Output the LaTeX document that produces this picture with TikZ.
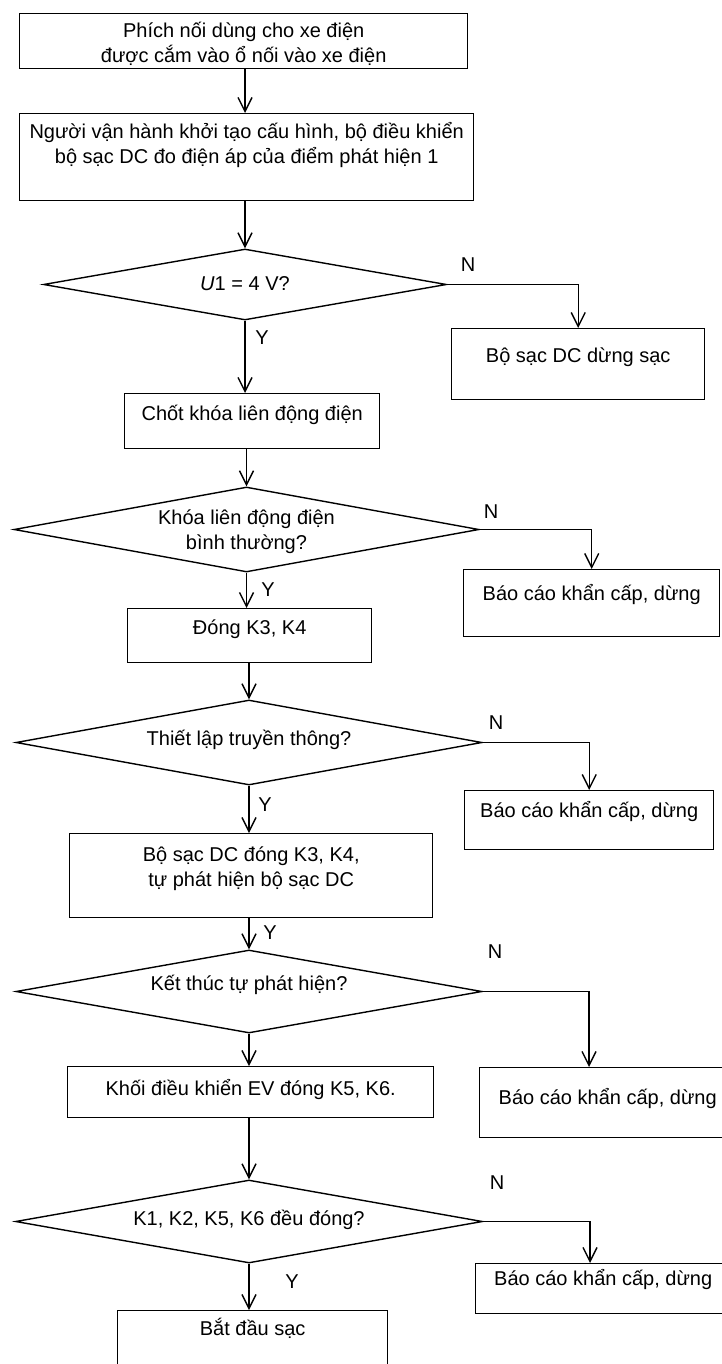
\documentclass[tikz,border=0pt]{standalone}
\usepackage{fontspec}
\setmainfont{Liberation Sans}
\usetikzlibrary{arrows.meta,shapes.geometric,calc}
\newcommand{\twoline}[2]{\vtop{\baselineskip=25pt\lineskiplimit=-100pt\lineskip=0pt\halign{\hfil##\hfil\cr#1\cr#2\cr}}}
\begin{document}
\begin{tikzpicture}[x=1pt,y=-1pt,
  every node/.style={font=\fontsize{20}{25}\selectfont},
  box/.style={draw,line width=1.4pt,rectangle,inner sep=0pt,anchor=north west},
  dec/.style={draw,line width=1.4pt,diamond,inner sep=0pt,shape aspect=5.5},
  arr/.style={line width=1.4pt,-{Straight Barb[length=14pt,width=14pt]}},
  lab/.style={inner sep=0pt}
]
\useasboundingbox (0,0) rectangle (722,1364);
\clip (0,0) rectangle (722,1364);

% process boxes
\node[box,minimum width=448,text height=24,text depth=31] (b1) at (19,13)
  {\twoline{Phích nối dùng cho xe điện}{được cắm vào ổ nối vào xe điện}};
\node[box,minimum width=454,text height=25,text depth=62] (b2) at (19,113)
  {\twoline{Người vận hành khởi tạo cấu hình, bộ điều khiển}{bộ sạc DC đo điện áp của điểm phát hiện 1}};
\node[box,minimum width=253,text height=34,text depth=37] (s1) at (451,328) {Bộ sạc DC dừng sạc};
\node[box,minimum width=255,text height=27,text depth=28] (b3) at (124,393) {Chốt khóa liên động điện};
\node[box,minimum width=256,text height=31,text depth=36] (r1) at (463,569) {Báo cáo khẩn cấp, dừng};
\node[box,minimum width=244,text height=26,text depth=28] (b4) at (127,608) {Đóng K3, K4};
\node[box,minimum width=249,text height=27,text depth=32] (r2) at (464,790) {Báo cáo khẩn cấp, dừng};
\node[box,minimum width=363,text height=28,text depth=56] (b5) at (69,833)
  {\twoline{Bộ sạc DC đóng K3, K4,}{tự phát hiện bộ sạc DC}};
\node[box,minimum width=256,text height=37,text depth=33] (r3) at (479,1067) {Báo cáo khẩn cấp, dừng};
\node[box,minimum width=366,text height=29,text depth=22] (b6) at (67,1066) {Khối điều khiển EV đóng K5, K6.};
\node[box,minimum width=255,text height=22,text depth=28] (r4) at (475,1263) {Báo cáo khẩn cấp, dừng};
\node[box,minimum width=270,text height=25,text depth=65] (b7) at (117,1310) {Bắt đầu sạc};

% decisions
\node[dec,minimum width=403,minimum height=71,text height=14,text depth=3] (d1) at (245,284.5) {\textit{U}1 = 4 V?};
\node[dec,minimum width=465,minimum height=85,text height=14,text depth=25] (d2) at (246.5,529.5)
  {\twoline{Khóa liên động điện}{bình thường?}};
\node[dec,minimum width=466,minimum height=85,text height=14,text depth=9] (d3) at (249,742.5) {Thiết lập truyền thông?};
\node[dec,minimum width=466,minimum height=83,text height=14,text depth=17] (d4) at (249,991.5) {Kết thúc tự phát hiện?};
\node[dec,minimum width=467,minimum height=83,text height=14,text depth=7] (d5) at (249,1221.5) {K1, K2, K5, K6 đều đóng?};

\coordinate (r3in) at ($(r3.north west)+(110,0)$);
\coordinate (r4in) at ($(r4.north west)+(115,0)$);

% connectors
\draw[arr] (b1.south -| d1.north) -- (b2.north -| d1.north);
\draw[arr] (b2.south -| d1.north) -- (d1.north);
\draw[arr] (d1.south) -- (d1.south |- b3.north);
\draw[arr] (d1.east) -| (s1.north);
\draw[arr] (b3.south -| d2.north) -- (d2.north);
\draw[arr] (d2.south) -- (d2.south |- b4.north);
\draw[arr] (d2.east) -| (r1.north);
\draw[arr] (b4.south -| d3.north) -- (d3.north);
\draw[arr] (d3.east) -| (r2.north);
\draw[arr] (d3.south) -- (d3.south |- b5.north);
\draw[arr] (b5.south -| d4.north) -- (d4.north);
\draw[arr] (d4.east) -| (r3in);
\draw[arr] (d4.south) -- (d4.south |- b6.north);
\draw[arr] (b6.south -| d5.north) -- (d5.north);
\draw[arr] (d5.east) -| (r4in);
\draw[arr] (d5.south) -- (d5.south |- b7.north);

% branch labels
\node[lab] (n1) at (468,265) {N};
\node[lab] (y1) at (262,338) {Y};
\node[lab] (n2) at (491,512) {N};
\node[lab] (y2) at (268,590) {Y};
\node[lab] (n3) at (496,723) {N};
\node[lab] (y3) at (265,805) {Y};
\node[lab] (y4) at (270,933) {Y};
\node[lab] (n4) at (495,952) {N};
\node[lab] (n5) at (497,1183) {N};
\node[lab] (y5) at (292,1282) {Y};
\end{tikzpicture}
\end{document}
